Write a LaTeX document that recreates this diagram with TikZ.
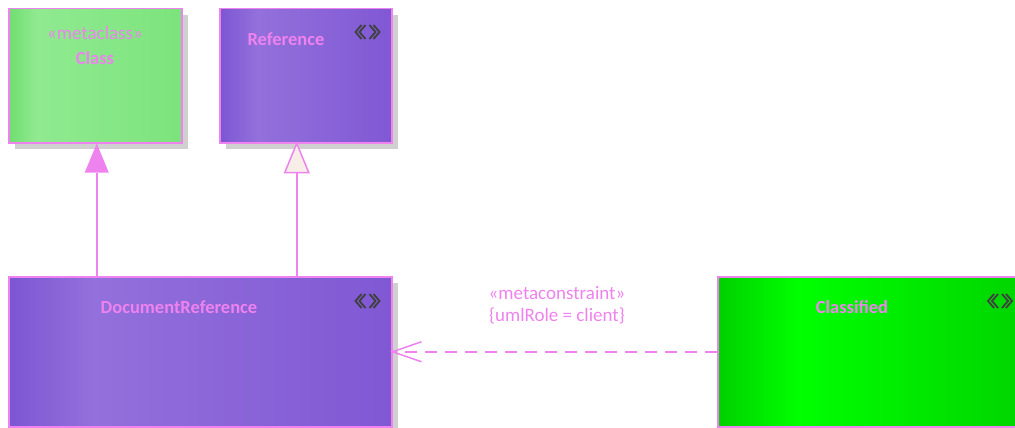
\documentclass[tikz,border=0pt]{standalone}
\usepackage{fontspec}
\setmainfont{Carlito}
\usetikzlibrary{shadows,arrows.meta}
\definecolor{vio}{HTML}{EE82EE}
\definecolor{icn}{HTML}{404040}
\definecolor{shd}{HTML}{D0D0D0}
\definecolor{pA}{HTML}{7C56D3}
\definecolor{pB}{HTML}{9370DB}
\definecolor{pC}{HTML}{8058D4}
\definecolor{gA}{HTML}{70DE70}
\definecolor{gB}{HTML}{90EA90}
\definecolor{gC}{HTML}{7CE47C}
\definecolor{cA}{HTML}{00D000}
\definecolor{cB}{HTML}{00FF00}
\definecolor{cC}{HTML}{00D400}
\definecolor{hol}{HTML}{F8EEE8}
\pgfdeclarehorizontalshading{purpshade}{100bp}{color(0bp)=(pA); color(25bp)=(pA); color(36bp)=(pB); color(75bp)=(pC); color(100bp)=(pC)}
\pgfdeclarehorizontalshading{greenshade}{100bp}{color(0bp)=(gA); color(25bp)=(gA); color(33bp)=(gB); color(75bp)=(gC); color(100bp)=(gC)}
\pgfdeclarehorizontalshading{limeshade}{100bp}{color(0bp)=(cA); color(25bp)=(cA); color(38bp)=(cB); color(75bp)=(cC); color(100bp)=(cC)}
\newcommand\eaicon[1]{%
  \begin{scope}[shift={#1},icn,line width=1.8pt,line join=miter]
    \draw (-6,-7) -- (-12,0) -- (-6,7);
    \draw (-2,-7) -- (-8,0) -- (-2,7);
    \draw (2,-7) -- (8,0) -- (2,7);
    \draw (6,-7) -- (12,0) -- (6,7);
  \end{scope}}
\tikzset{
  box/.style={draw=vio,line width=1.5pt,rectangle,inner sep=0pt,anchor=north west,
    drop shadow={shadow xshift=6pt,shadow yshift=-6pt,fill=shd,opacity=1}},
  lbl/.style={text=vio,font=\fontsize{19}{21}\selectfont,inner sep=0pt},
  blbl/.style={text=vio,font=\fontsize{18.5}{20}\selectfont\bfseries,inner sep=0pt},
  gen/.style={draw=vio,line width=1.5pt},
  dep/.style={draw=vio,line width=1.5pt,dash pattern=on 12pt off 8pt},
}
\begin{document}
\begin{tikzpicture}[x=1pt,y=-1pt]
\useasboundingbox (0,0) rectangle (1015,428);
\clip (0,0) rectangle (1015,428);
% boxes
\node[box,shading=greenshade,minimum width=173pt,minimum height=134pt] (class) at (8,8) {};
\node[box,shading=purpshade,minimum width=172pt,minimum height=134pt] (ref) at (219,8) {};
\node[box,shading=purpshade,minimum width=383pt,minimum height=150pt] (docref) at (8,276) {};
\node[box,shading=limeshade,minimum width=310pt,minimum height=150pt] (classified) at (717,276) {};
% labels
\node[lbl] (classst) at (95,33) {«metaclass»};
\node[blbl] (classnm) at (95,58) {Class};
\node[blbl] (refnm) at (286,39) {Reference};
\node[blbl] (docnm) at (179,307) {DocumentReference};
\node[blbl] (clsnm) at (852,307) {Classified};
\eaicon{(367.5,32)}
\eaicon{(367.5,301)}
\eaicon{(1000,301)}
% generalizations
\coordinate (g1t) at ([xshift=1.5pt]class.south);
\coordinate (g1b) at (g1t |- docref.north);
\draw[gen] (g1b) -- ([yshift=-29pt]g1t);
\fill[vio] (g1t) -- ++(-12,29) -- ++(24,0) -- cycle;
\coordinate (g2t) at ([xshift=-9pt]ref.south);
\coordinate (g2b) at (g2t |- docref.north);
\draw[gen] (g2b) -- ([yshift=-29pt]g2t);
\draw[gen,fill=hol,line join=miter] (g2t) -- ++(-12,29) -- ++(24,0) -- cycle;
% dependency
\draw[dep] (classified.west) -- (docref.east);
\draw[vio,line width=1.5pt] ([shift={(29,-10)}]docref.east) -- (docref.east) -- ([shift={(29,10)}]docref.east);
\node[lbl] (depst) at (557,293) {«metaconstraint»};
\node[lbl] (deprole) at (557,316) {\{umlRole = client\}};
\end{tikzpicture}
\end{document}
